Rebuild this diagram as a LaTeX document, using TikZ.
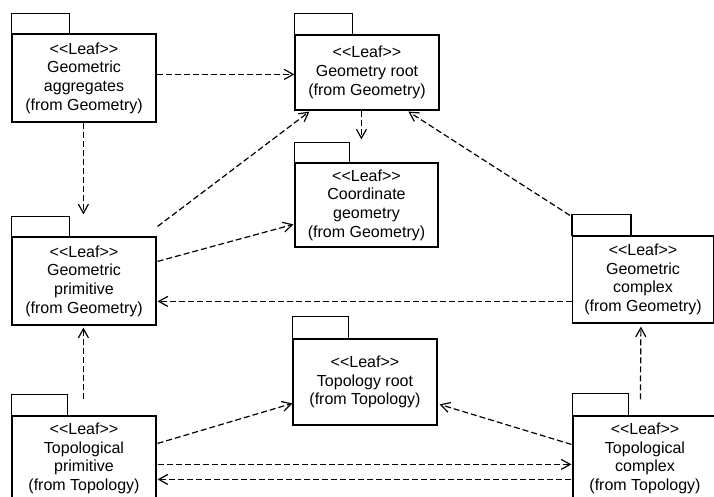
\documentclass[tikz,border=0pt]{standalone}
\usepackage{fontspec}
\setmainfont{Liberation Sans}[Ligatures=TeXOff]
\usetikzlibrary{arrows.meta,calc}

\tikzset{
  pkgbody/.style={draw=black, line width=1.2pt, fill=white, align=center,
    inner sep=0pt, font=\fontsize{16}{18.7}\selectfont},
  pkgtab/.style={draw=black, line width=1.2pt},
  dep/.style={draw=black, line width=1.2pt, dash pattern=on 6pt off 3pt,
    -{Straight Barb[length=9pt,width=10pt,line width=1.2pt]}},
}

\begin{document}
\begin{tikzpicture}[x=1pt,y=-1pt]
\useasboundingbox (0,0) rectangle (714,497);

% package bodies
\node[pkgbody, minimum width=144pt, minimum height=88pt] (ga) at (84,78)
  {<<Leaf>>\\Geometric\\aggregates\\(from Geometry)};
\node[pkgbody, minimum width=144pt, minimum height=75pt] (gr) at (367,72.5)
  {<<Leaf>>\\Geometry root\\(from Geometry)};
\node[pkgbody, minimum width=143pt, minimum height=84pt] (cg) at (366.5,205)
  {<<Leaf>>\\Coordinate\\geometry\\(from Geometry)};
\node[pkgbody, minimum width=144pt, minimum height=88pt] (gp) at (84,281)
  {<<Leaf>>\\Geometric\\primitive\\(from Geometry)};
\node[pkgbody, minimum width=141pt, minimum height=87pt] (gc) at (643,279.5)
  {<<Leaf>>\\Geometric\\complex\\(from Geometry)};
\node[pkgbody, minimum width=144pt, minimum height=86pt] (tr) at (365,382)
  {<<Leaf>>\\Topology root\\(from Topology)};
\node[pkgbody, minimum width=144pt, minimum height=85pt] (tp) at (84,458.5)
  {<<Leaf>>\\Topological\\primitive\\(from Topology)};
\node[pkgbody, minimum width=144pt, minimum height=85pt] (tc) at (645,458.5)
  {<<Leaf>>\\Topological\\complex\\(from Topology)};

% package tabs
\draw[pkgtab] (ga.north west) rectangle ++(58,-20);
\draw[pkgtab] (gr.north west) rectangle ++(58,-21);
\draw[pkgtab] (cg.north west) rectangle ++(55,-20);
\draw[pkgtab] (gp.north west) rectangle ++(58,-20);
\draw[pkgtab] (gc.north west) rectangle ++(59,-21);
\draw[pkgtab] (tr.north west) rectangle ++(56,-22);
\draw[pkgtab] (tp.north west) rectangle ++(56,-21);
\draw[pkgtab] (tc.north west) rectangle ++(56,-22);

% dependencies
\draw[dep] ($(ga.north east)+(0,41)$) -- ($(gr.north west)+(0,40)$);
\draw[dep] ($(ga.south west)+(72,0)$) -- ($(gp.north west)+(72,-22)$);
\draw[dep] ($(gp.north east)+(1,-10)$) -- ($(gr.south west)+(15,1)$);
\draw[dep] ($(gp.north east)+(1,25)$) -- ($(cg.north west)+(-1,62)$);
\draw[dep] ($(gr.south west)+(67,0)$) -- ($(cg.north west)+(67,-23)$);
\draw[dep] ($(gc.north west)+(-2,-20)$) -- ($(gr.south west)+(114,1)$);
\draw[dep] ($(gc.north west)+(0,66)$) -- ($(gp.north east)+(1,65)$);
\draw[dep] ($(tp.north west)+(72,-16)$) -- ($(gp.south west)+(72,2)$);
\draw[dep] ($(tp.north east)+(1,28)$) -- ($(tr.north west)+(0,65)$);
\draw[dep] ($(tp.north east)+(1,49)$) -- ($(tc.north west)+(-1,49)$);
\draw[dep] ($(tc.north west)+(-1,64)$) -- ($(tp.north east)+(1,64)$);
\draw[dep] ($(tc.north west)+(-1,29)$) -- ($(tr.north east)+(2,66)$);
\draw[dep] ($(tc.north west)+(68,-16)$) -- ($(gc.south west)+(69,3)$);
\end{tikzpicture}
\end{document}
